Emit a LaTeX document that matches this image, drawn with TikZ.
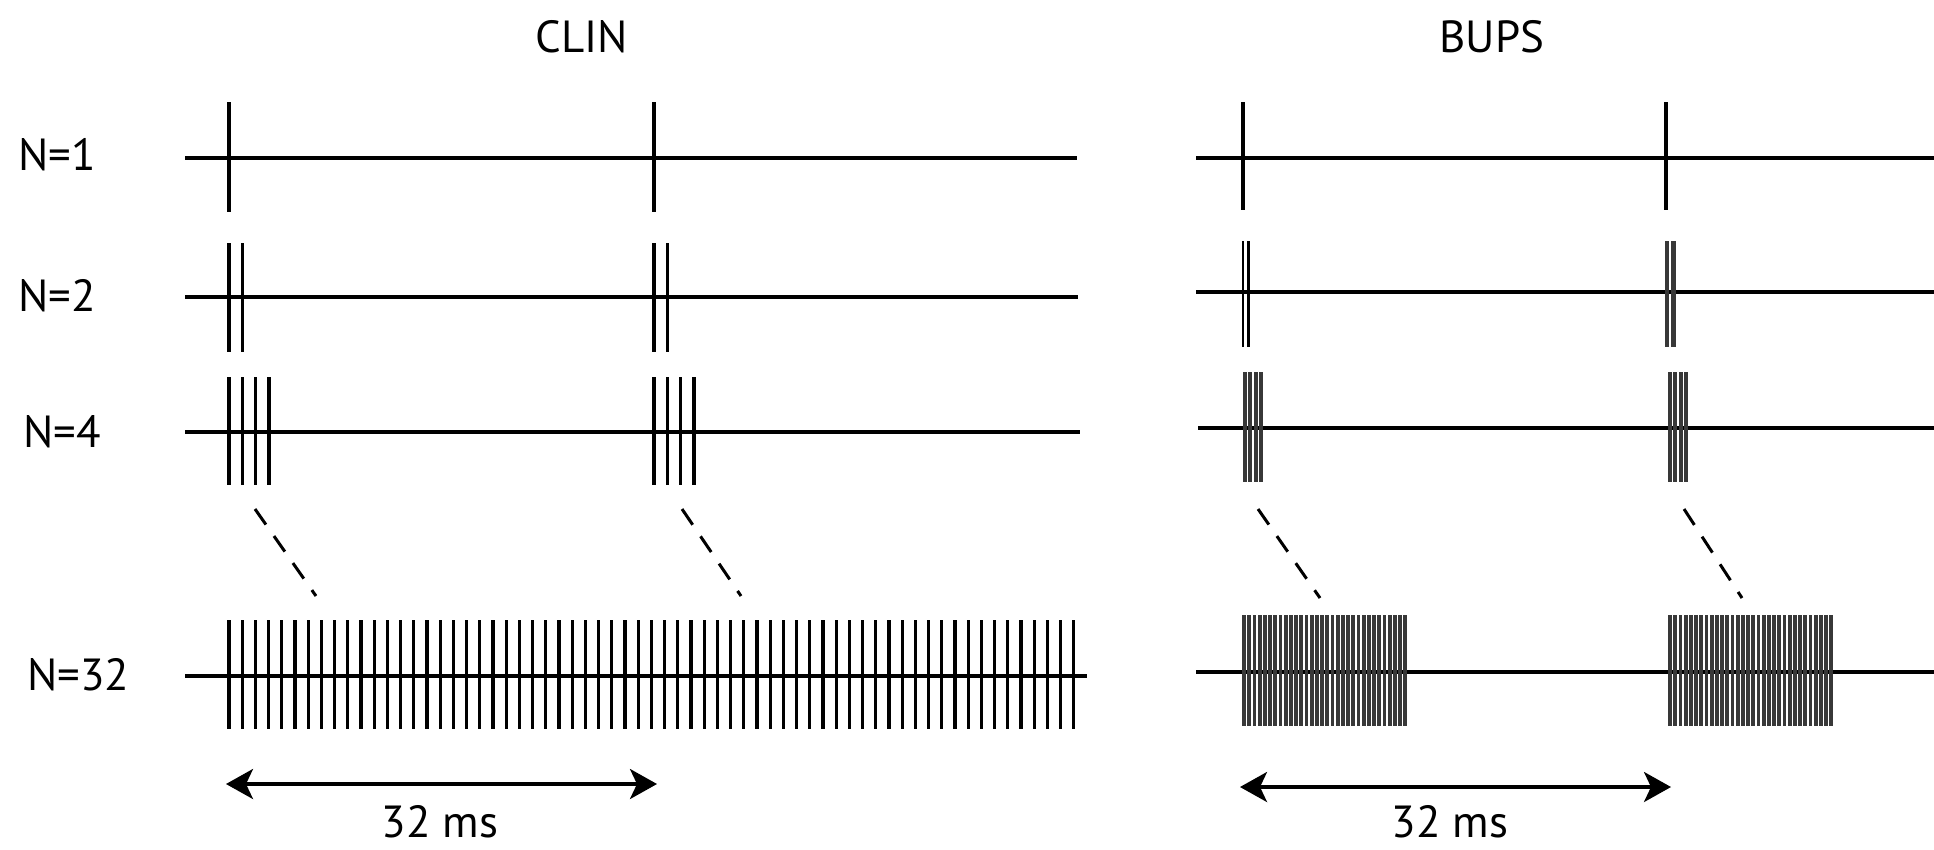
\documentclass[tikz,border=0pt]{standalone}
\usepackage{fontspec}
\setmainfont{PT Sans}
\usetikzlibrary{arrows.meta}
\begin{document}
\begin{tikzpicture}[x=1pt,y=-1pt,
  axis/.style={line width=3.2pt},
  tickline/.style={line width=3.2pt},
  btick/.style={line width=3.8pt, black!78},
  lbl/.style={font=\fontsize{45}{52}\selectfont, inner sep=0pt},
  zoomdash/.style={line width=3pt, dash pattern=on 19pt off 14pt},
  span/.style={line width=3.4pt, {Stealth[length=27pt,width=30pt,inset=7pt]}-{Stealth[length=27pt,width=30pt,inset=7pt]}}]
\useasboundingbox (0,0) rectangle (1934,849);
% titles
\node[lbl] (clin) at (582,37) {CLIN};
\node[lbl] (bups) at (1492,37) {BUPS};
% row labels
\node[lbl, anchor=west] (n1) at (18,155) {N=1};
\node[lbl, anchor=west] (n2) at (18,296) {N=2};
\node[lbl, anchor=west] (n4) at (23,432) {N=4};
\node[lbl, anchor=west] (n32) at (27,675) {N=32};
% ---------------- CLIN ----------------
\draw[axis] (185,158) -- (1077,158);
\foreach \x in {229,654} \draw[tickline] (\x,102) -- (\x,212);
\draw[axis] (185,297) -- (1078,297);
\foreach \s in {229,654} \foreach \k in {0,1} \draw[tickline] (\s+13.3*\k,243) -- (\s+13.3*\k,352);
\draw[axis] (185,432) -- (1080,432);
\foreach \s in {229,654} \foreach \k in {0,...,3} \draw[tickline] (\s+13.3*\k,377) -- (\s+13.3*\k,485);
\draw[axis] (185,676) -- (1087,676);
\foreach \k in {0,...,64} \draw[tickline] (229+13.2*\k,620) -- (229+13.2*\k,729);
% zoom dashes
\coordinate (cd1a) at (255,509); \coordinate (cd1b) at (316,596);
\coordinate (cd2a) at (682,509); \coordinate (cd2b) at (741,596);
\draw[zoomdash] (cd1a) -- (cd1b);
\draw[zoomdash] (cd2a) -- (cd2b);
% span arrow
\coordinate (ca) at (226,784); \coordinate (cb) at (657,784);
\draw[span] (ca) -- (cb);
\node[lbl] (cms) at (440,822) {32 ms};
% ---------------- BUPS ----------------
\draw[axis] (1196,158) -- (1934,158);
\foreach \x in {1243,1666} \draw[tickline] (\x,102) -- (\x,210);
\draw[axis] (1196,292) -- (1934,292);
\foreach \k in {0,1} \draw[tickline, line width=2.8pt] (1243+5.5*\k,241) -- (1243+5.5*\k,347);
\foreach \k in {0,1} \draw[btick, line width=4.5pt] (1667+6.5*\k,241) -- (1667+6.5*\k,347);
\draw[axis] (1198,428) -- (1934,428);
\foreach \s in {1245,1670} \foreach \k in {0,...,3} \draw[btick] (\s+5.3*\k,372) -- (\s+5.3*\k,482);
\draw[axis] (1196,672) -- (1934,672);
\foreach \s in {1244,1670} \foreach \k in {0,...,31} \draw[btick] (\s+5.2*\k,615) -- (\s+5.2*\k,726);
% zoom dashes
\coordinate (bd1a) at (1258,509); \coordinate (bd1b) at (1320,598);
\coordinate (bd2a) at (1684,509); \coordinate (bd2b) at (1742,598);
\draw[zoomdash] (bd1a) -- (bd1b);
\draw[zoomdash] (bd2a) -- (bd2b);
% span arrow
\coordinate (ba) at (1240,787); \coordinate (bb) at (1671,787);
\draw[span] (ba) -- (bb);
\node[lbl] (bms) at (1450,822) {32 ms};
\end{tikzpicture}
\end{document}
